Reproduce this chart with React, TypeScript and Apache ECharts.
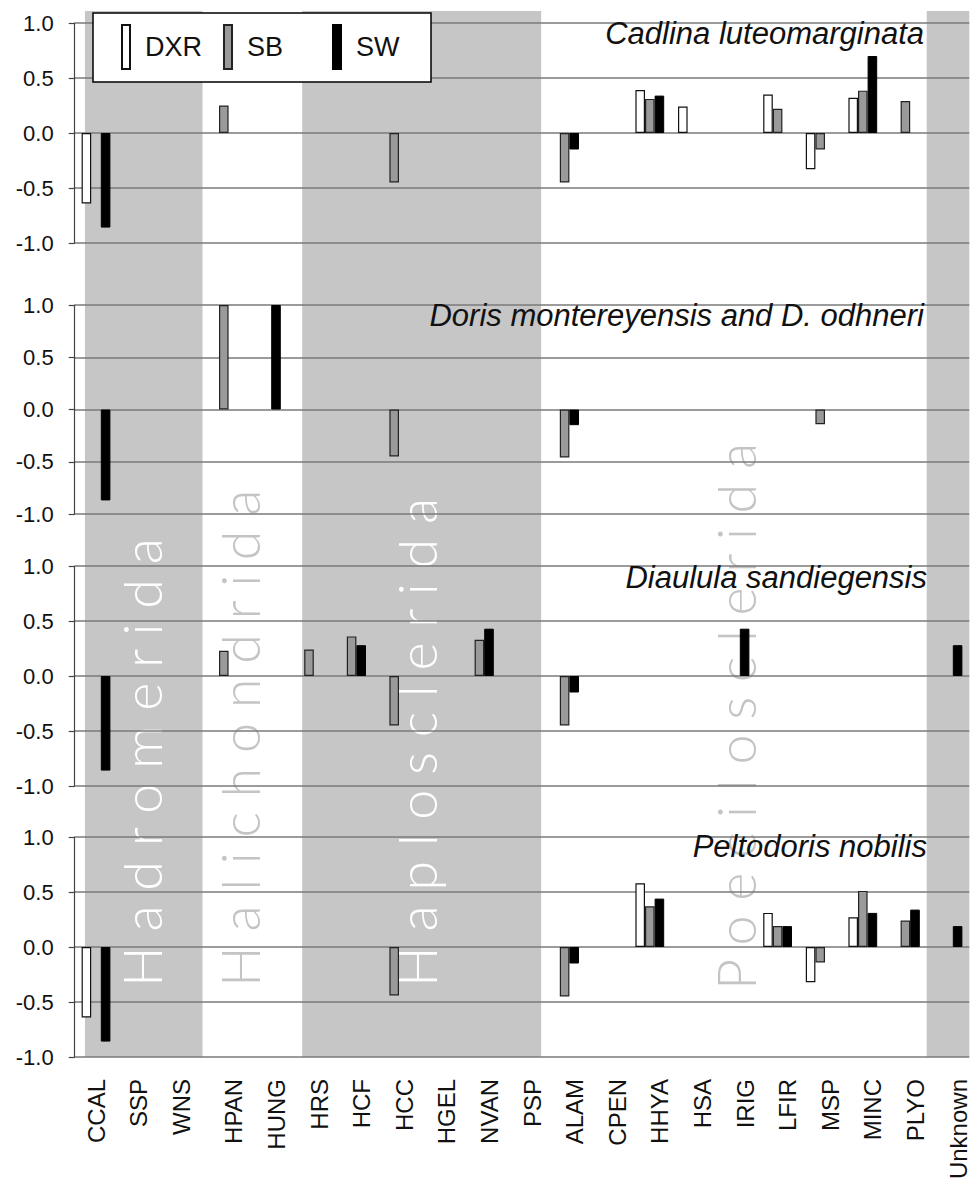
import React, { useEffect, useRef } from 'react';
import * as echarts from 'echarts';

const N = null;

const categories = ['CCAL', 'SSP', 'WNS', 'HPAN', 'HUNG', 'HRS', 'HCF', 'HCC', 'HGEL', 'NVAN', 'PSP', 'ALAM', 'CPEN', 'HHYA', 'HSA', 'IRIG', 'LFIR', 'MSP', 'MINC', 'PLYO', 'Unknown'];
const seriesNames = ['DXR', 'SB', 'SW'];
const panelTitles = ['Cadlina luteomarginata', 'Doris montereyensis and D. odhneri', 'Diaulula sandiegensis', 'Peltodoris nobilis'];
const orderLabels = ['Hadromerida', 'Halichondrida', 'Haplosclerida', 'Poecilosclerida'];
// band extents in category units (0 = left edge of CCAL, 21 = right edge of Unknown)
const bandRanges = [[0.24, 3.0], [5.34, 10.95], [20.0, 21.0]];
const yMin = -1;
const yMax = 1;
const yStep = 0.5;

// Cadlina luteomarginata
const cadlinaDXR = [-0.64, N, N, N, N, N, N, N, N, N, N, N, N, 0.39, 0.24, N, 0.35, -0.33, 0.32, N, N];
const cadlinaSB = [N, N, N, 0.25, N, N, N, -0.45, N, N, N, -0.45, N, 0.31, N, N, 0.22, -0.15, 0.385, 0.29, N];
const cadlinaSW = [-0.86, N, N, N, N, N, N, N, N, N, N, -0.15, N, 0.34, N, N, N, N, 0.70, N, N];

// Doris montereyensis and D. odhneri
const dorisDXR = [N, N, N, N, N, N, N, N, N, N, N, N, N, N, N, N, N, N, N, N, N];
const dorisSB = [N, N, N, 1.0, N, N, N, -0.45, N, N, N, -0.46, N, N, N, N, N, -0.14, N, N, N];
const dorisSW = [-0.87, N, N, N, 1.0, N, N, N, N, N, N, -0.15, N, N, N, N, N, N, N, N, N];

// Diaulula sandiegensis
const diaululaDXR = [N, N, N, N, N, N, N, N, N, N, N, N, N, N, N, N, N, N, N, N, N];
const diaululaSB = [N, N, N, 0.23, N, 0.24, 0.36, -0.45, N, 0.33, N, -0.45, N, N, N, N, N, N, N, N, N];
const diaululaSW = [-0.86, N, N, N, N, N, 0.28, N, N, 0.43, N, -0.15, N, N, N, 0.43, N, N, N, N, 0.28];

// Peltodoris nobilis
const peltodorisDXR = [-0.64, N, N, N, N, N, N, N, N, N, N, N, N, 0.58, N, N, 0.31, -0.32, 0.27, N, N];
const peltodorisSB = [N, N, N, N, N, N, N, -0.44, N, N, N, -0.45, N, 0.37, N, N, 0.19, -0.14, 0.51, 0.24, N];
const peltodorisSW = [-0.86, N, N, N, N, N, N, N, N, N, N, -0.15, N, 0.44, N, N, 0.19, N, 0.31, 0.34, 0.19];

const panelData = [
  [cadlinaDXR, cadlinaSB, cadlinaSW],
  [dorisDXR, dorisSB, dorisSW],
  [diaululaDXR, diaululaSB, diaululaSW],
  [peltodorisDXR, peltodorisSB, peltodorisSW],
];

// layout
const FONT = '"Liberation Sans", Arial, Helvetica, sans-serif';
const gridLeft = 74.7;
const gridRight = 0.7;
const panelTops = [23, 305, 566, 837];
const panelHeights = [220, 209, 220, 220];
const titleTops = [18, 300, 562, 831];
const titleRights = [46, 46, 43, 43];
const bandTop = 11;
const bandHeight = 1046;
const orderTextPos = [[168, 987], [266, 987], [443, 987], [762, 990]];
const orderTextColors = ['#ffffff', '#c4c4c4', '#ffffff', '#c4c4c4'];
const legendLefts = [93, 223, 332];
const labelShiftFrom = 3; // labels from HPAN on sit a little right of their bars in the source figure
const labelShift = 20;

const seriesStyles = [
  { color: '#ffffff', borderColor: '#111111', borderWidth: 1.2 },
  { color: '#9a9a9a', borderColor: '#222222', borderWidth: 1.2 },
  { color: '#000000', borderColor: '#000000', borderWidth: 1 },
];

function buildOption() {
  const grids: any[] = panelTops.map((t, i) => ({
    left: gridLeft, right: gridRight, top: t, height: panelHeights[i], containLabel: false, outerBoundsMode: 'none',
  }));
  grids.push({ left: gridLeft, right: gridRight, top: bandTop, height: bandHeight, containLabel: false, outerBoundsMode: 'none' });

  const xLabelBase = { fontSize: 24, color: '#111', fontFamily: FONT };
  const xAxes: any[] = panelTops.map((_, i) => ({
    type: 'category',
    gridIndex: i,
    data: categories,
    position: 'bottom',
    axisLine: { show: false },
    axisTick: { show: false },
    axisLabel: {
      show: i === 3,
      interval: 0,
      rotate: 90,
      margin: 22,
      ...xLabelBase,
      formatter: (v: string, idx: number) => (idx >= labelShiftFrom ? `{s|${v}}` : `{n|${v}}`),
      rich: {
        n: { ...xLabelBase },
        s: { ...xLabelBase, padding: [labelShift, 0, 0, 0] },
      },
    },
    splitLine: { show: false },
  }));
  xAxes.push({ type: 'value', gridIndex: 4, min: 0, max: categories.length, show: false });

  const yAxes: any[] = panelTops.map((_, i) => ({
    type: 'value',
    gridIndex: i,
    min: yMin,
    max: yMax,
    interval: yStep,
    z: 1,
    axisLine: { show: true, lineStyle: { color: '#444', width: 1.2 } },
    axisTick: { show: true, length: 6, lineStyle: { color: '#444', width: 1.2 } },
    axisLabel: {
      fontSize: 22,
      color: '#111',
      margin: 21,
      fontFamily: FONT,
      formatter: (v: number) => v.toFixed(1),
    },
    splitLine: { show: true, lineStyle: { color: '#7a7a7a', width: 1.5 } },
  }));
  yAxes.push({ type: 'value', gridIndex: 4, min: 0, max: 1, show: false });

  const series: any[] = [];
  panelData.forEach((panel, p) => {
    panel.forEach((vals, s) => {
      series.push({
        type: 'bar',
        name: seriesNames[s],
        xAxisIndex: p,
        yAxisIndex: p,
        data: vals,
        barWidth: 9.6,
        barGap: '0%',
        itemStyle: seriesStyles[s],
        z: 3,
        silent: true,
      });
    });
  });
  series.push({
    type: 'scatter',
    name: 'bands',
    xAxisIndex: 4,
    yAxisIndex: 4,
    data: [],
    z: -3,
    silent: true,
    markArea: {
      z: -3,
      silent: true,
      itemStyle: { color: '#c6c6c6' },
      label: { show: false },
      data: bandRanges.map(([a, b]) => [{ xAxis: a }, { xAxis: b }]),
    },
  });

  const graphic = {
    z: 0,
    elements: orderLabels.map((name, i) => ({
      type: 'text',
      x: orderTextPos[i][0],
      y: orderTextPos[i][1],
      rotation: Math.PI / 2,
      silent: true,
      style: {
        text: name.split('').join(' '),
        fill: orderTextColors[i],
        font: '300 54px Lato, "Open Sans", sans-serif',
        align: 'left',
        verticalAlign: 'bottom',
      },
    })),
  };

  const legendText = { fontSize: 27, color: '#111', fontFamily: FONT };
  const legends: any[] = seriesNames.map((name, i) => ({
    data: [{ name, textStyle: { padding: [0, 0, 0, 10] } }],
    left: legendLefts[i],
    top: 13,
    orient: 'horizontal',
    icon: 'rect',
    itemWidth: 8,
    itemHeight: 44,
    padding: i === 0 ? [11, 229, 12, 28] : [11, 0, 12, 0],
    backgroundColor: i === 0 ? '#ffffff' : 'transparent',
    borderColor: '#000000',
    borderWidth: i === 0 ? 1.5 : 0,
    selectedMode: false,
    z: i === 0 ? 5 : 6,
    textStyle: legendText,
  }));

  return {
    animation: false,
    backgroundColor: '#ffffff',
    grid: grids,
    xAxis: xAxes,
    yAxis: yAxes,
    series,
    graphic,
    title: panelTitles.map((t, i) => ({
      text: t,
      right: titleRights[i],
      top: titleTops[i],
      padding: 0,
      textStyle: { fontSize: 31, fontStyle: 'italic', fontWeight: 'normal', color: '#111', fontFamily: FONT },
    })),
    legend: legends,
  };
}

export default function App() {
  const ref = useRef<HTMLDivElement>(null);
  useEffect(() => {
    document.body.style.margin = '0';
    const chart = echarts.init(ref.current as HTMLDivElement, null, { renderer: 'svg' });
    chart.setOption(buildOption() as any);
    return () => chart.dispose();
  }, []);
  return <div ref={ref} style={{ width: 970, height: 1182 }} />;
}
